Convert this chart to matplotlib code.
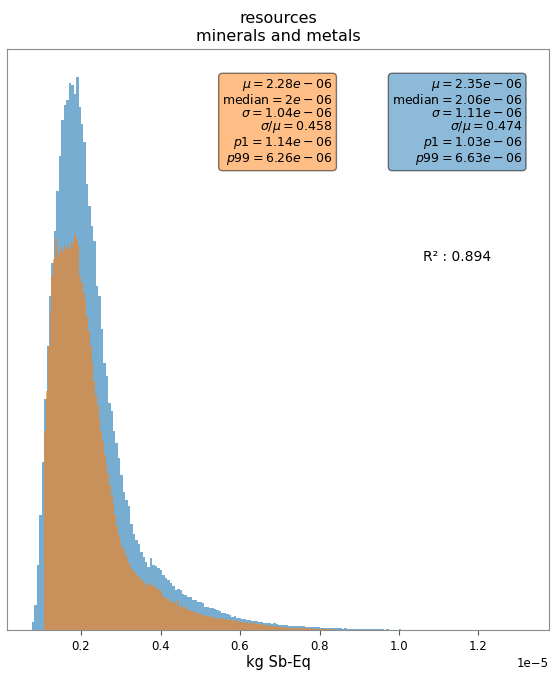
import matplotlib
matplotlib.use("Agg")
import matplotlib.pyplot as plt
import numpy as np

# bin heights (counts, arbitrary units: no y ticks)
# second dataset (blue), 200 bins between 0.076e-5 and 1.315e-5
blue_range = (0.076e-5, 1.315e-5)
blue_counts = [
    8, 25, 65, 115, 168, 232, 285, 335, 368, 400,
    440, 476, 512, 527, 532, 549, 547, 538, 555, 525,
    508, 490, 447, 425, 405, 390, 345, 335, 302, 268,
    255, 228, 220, 200, 188, 173, 155, 138, 130, 124,
    106, 96, 90, 86, 78, 73, 68, 63, 72, 65,
    64, 62, 60, 55, 52, 50, 47, 44, 40, 41,
    40, 36, 35, 33, 33, 30, 30, 28, 28, 27,
    23, 23, 22, 22, 21, 20, 19, 17, 17, 16,
    15, 13, 14, 12, 12, 11, 11, 10, 10, 9,
    9, 9, 8, 8, 7, 7, 7, 6, 7, 6,
    5, 5, 5, 5, 4, 4, 4, 4, 3.5, 4,
    3.5, 3, 3, 3, 2.5, 3, 2.5, 2, 2, 2,
    2, 1.5, 2, 1.5, 1.5, 1.5, 1.2, 1.5, 1, 1.2,
    1, 1, 0.9, 1, 0.8, 0.8, 0.7, 0.8, 0.6, 0.6,
    0.5, 0.6, 0.5, 0.4, 0.5, 0.4, 0.3, 0.4, 0.3, 0.5,
    0.2, 0.3, 0.2, 0.2, 0.2, 0.1, 0.2, 0.1, 0.1, 0.1,
    0.1, 0.1, 0, 0.1, 0.1, 0, 0.1, 0, 0, 0.1,
    0, 0.1, 0, 0, 0, 0.1, 0, 0, 0, 0,
    0, 0, 0.1, 0, 0, 0, 0, 0, 0, 0,
    0, 0, 0, 0, 0, 0, 0, 0, 0, 0.1,
]

# first dataset (orange), 200 bins between 0.108e-5 and 0.988e-5
orange_range = (0.108e-5, 0.988e-5)
orange_counts = [
    200, 240, 285, 320, 355, 372, 393, 380, 376, 384,
    380, 387, 382, 385, 383, 390, 388, 397, 392, 386,
    355, 348, 338, 330, 315, 300, 285, 268, 250, 236,
    226, 212, 200, 190, 176, 165, 156, 145, 135, 126,
    115, 104, 95, 88, 83, 80, 75, 71, 67, 62,
    60, 58, 56, 54, 52, 50, 49, 47, 44, 46,
    47, 45, 43, 44, 42, 40, 39, 35, 33, 32,
    31, 28, 29, 27, 28, 25, 30, 23, 24, 22,
    23, 21, 20, 20, 19, 18, 18, 17, 16, 16,
    15, 15, 14, 14, 13, 14, 13, 12, 12, 12,
    11, 12, 11, 11, 10, 11, 10, 10, 9, 10,
    9, 8, 8, 8, 7, 8, 7, 7, 7, 6,
    7, 6, 6, 5, 6, 5, 5, 4, 5, 4,
    4, 4, 3, 4, 3, 3, 3, 2, 3, 2,
    2, 2, 2, 2, 2, 1.5, 2, 1.5, 1.5, 1.5,
    1.5, 1, 1.5, 1, 1, 1, 1, 0.8, 1, 0.7,
    0.6, 0.7, 0.5, 0.5, 0.4, 0.5, 0.3, 0.4, 0.3, 0.3,
    0.3, 0.2, 0.3, 0.2, 0.2, 0.2, 0.1, 0.2, 0.1, 0.1,
    0.1, 0.1, 0.1, 0, 0.1, 0, 0.1, 0, 0, 0.1,
    0, 0, 0.1, 0, 0, 0, 0, 0, 0, 0.1,
]

# summary statistics shown in the boxes
orange_stats = ["$\\mu = 2.28e-06$", "median$ = 2e-06$", "$\\sigma = 1.04e-06$",
                "$\\sigma/\\mu = 0.458$", "$p1 = 1.14e-06$", "$p99 = 6.26e-06$"]
blue_stats = ["$\\mu = 2.35e-06$", "median$ = 2.06e-06$", "$\\sigma = 1.11e-06$",
              "$\\sigma/\\mu = 0.474$", "$p1 = 1.03e-06$", "$p99 = 6.63e-06$"]
r2 = 0.894

fig, ax = plt.subplots(figsize=(5.51, 6.73), dpi=100)
fig.subplots_adjust(left=0.013, right=0.996, top=0.927, bottom=0.064)


def draw_hist(counts, rng, color):
    edges = np.linspace(rng[0], rng[1], len(counts) + 1)
    centers = (edges[:-1] + edges[1:]) / 2
    ax.hist(centers, bins=edges, weights=counts, histtype="stepfilled",
            color=color, alpha=0.6, linewidth=0)


draw_hist(blue_counts, blue_range, "tab:blue")
draw_hist(orange_counts, orange_range, "tab:orange")

ax.set_yticks([])
for s in ax.spines.values():
    s.set_color("#8c8c8c")
ax.tick_params(axis="x", labelsize=8.5, color="#555555")
ax.xaxis.get_offset_text().set_fontsize(8.5)
ax.set_xlabel("kg Sb-Eq", fontsize=10.5, labelpad=2)
ax.set_title("resources\nminerals and metals", fontsize=11.5)

ax.text(0.601, 0.952, "\n".join(orange_stats), transform=ax.transAxes,
        ha="right", va="top", fontsize=9, linespacing=0.98,
        bbox=dict(boxstyle="round", facecolor="tab:orange", alpha=0.5))
ax.text(0.951, 0.952, "\n".join(blue_stats), transform=ax.transAxes,
        ha="right", va="top", fontsize=9, linespacing=0.98,
        bbox=dict(boxstyle="round", facecolor="tab:blue", alpha=0.5))
ax.text(0.768, 0.642, f"R² : {r2}", transform=ax.transAxes,
        ha="left", va="center", fontsize=10)

fig.savefig("out.png", dpi=100)
